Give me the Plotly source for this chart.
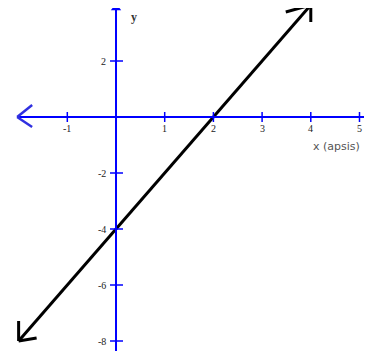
import plotly.graph_objects as go

# Data
line_x = [-2, 4]
line_y = [-8, 4]
x_ticks = [-1, 1, 2, 3, 4, 5]
y_ticks = [2, -2, -4, -6, -8]
x_axis_start = -2.03
y_title_pos = (0.37, 3.56)
x_title = "x (apsis)"
y_title = "y"

# page has an 8px body margin; figure fills the rest of the 372x351 window
W, H = 364, 343
XR = [-2.218, 5.257]
YR = [-8.357, 3.893]
BLUE = "#0000FF"

fig = go.Figure()

# main line
fig.add_trace(go.Scatter(x=line_x, y=line_y, mode="lines",
                         line=dict(color="black", width=3), hoverinfo="skip"))

# axes lines
fig.add_trace(go.Scatter(x=[x_axis_start, XR[1]], y=[0, 0], mode="lines",
                         line=dict(color=BLUE, width=2), hoverinfo="skip"))
fig.add_trace(go.Scatter(x=[0, 0], y=[YR[1], YR[0]], mode="lines",
                         line=dict(color=BLUE, width=2), hoverinfo="skip"))
# y-axis top cap
fig.add_trace(go.Scatter(x=[0], y=[YR[1]], mode="markers", cliponaxis=False,
                         marker=dict(symbol="triangle-up", size=9, color=BLUE),
                         hoverinfo="skip"))

shapes = []
def pix_line(xa, ya, x0, y0, x1, y1, color, width):
    shapes.append(dict(type="line", xref="x", yref="y",
                       xsizemode="pixel", ysizemode="pixel",
                       xanchor=xa, yanchor=ya,
                       x0=x0, y0=y0, x1=x1, y1=y1,
                       line=dict(color=color, width=width)))

# tick marks
for t in x_ticks:
    pix_line(t, 0, 0, -5, 0, 5, BLUE, 1.5)
for t in y_ticks:
    pix_line(0, t, -6, 0, 7, 0, BLUE, 1.5)

# x-axis left chevron
pix_line(x_axis_start, 0, 0, 0, 15, 12, "#3030E0", 2.5)
pix_line(x_axis_start, 0, 0, 0, 15, -10, "#3030E0", 2.5)

# line arrowheads (open chevrons)
pix_line(line_x[1], line_y[1], 0, 0, -25, -7, "black", 3)
pix_line(line_x[1], line_y[1], 0, 0, 0, -17, "black", 3)
pix_line(line_x[0], line_y[0], 0, 0, 0, 20, "black", 3)
pix_line(line_x[0], line_y[0], 0, 0, 18, 3, "black", 3)

annotations = []
for t in x_ticks:
    annotations.append(dict(x=t, y=0, xref="x", yref="y", text=str(t),
                            showarrow=False, yshift=-11, yanchor="middle",
                            font=dict(family="Liberation Serif", size=10, color="#222")))
for t in y_ticks:
    annotations.append(dict(x=0, y=t, xref="x", yref="y", text=str(t),
                            showarrow=False, xshift=-8, xanchor="right",
                            yanchor="middle",
                            font=dict(family="Liberation Serif", size=10, color="#222")))
annotations.append(dict(x=y_title_pos[0], y=y_title_pos[1], xref="x", yref="y",
                        text="<b>" + y_title + "</b>",
                        showarrow=False, xanchor="center", yanchor="middle",
                        font=dict(family="Liberation Serif", size=12, color="#333")))
annotations.append(dict(x=XR[1], y=0, xref="x", yref="y", text=x_title,
                        showarrow=False, xshift=-10, yshift=-29, xanchor="right",
                        yanchor="middle",
                        font=dict(family="DejaVu Sans", size=11, color="#555")))

fig.update_layout(width=W, height=H, margin=dict(l=0, r=0, t=0, b=0),
                  paper_bgcolor="white", plot_bgcolor="white", showlegend=False,
                  xaxis=dict(range=XR, visible=False, fixedrange=True),
                  yaxis=dict(range=YR, visible=False, fixedrange=True),
                  shapes=shapes, annotations=annotations)

fig.write_html("out.html")
